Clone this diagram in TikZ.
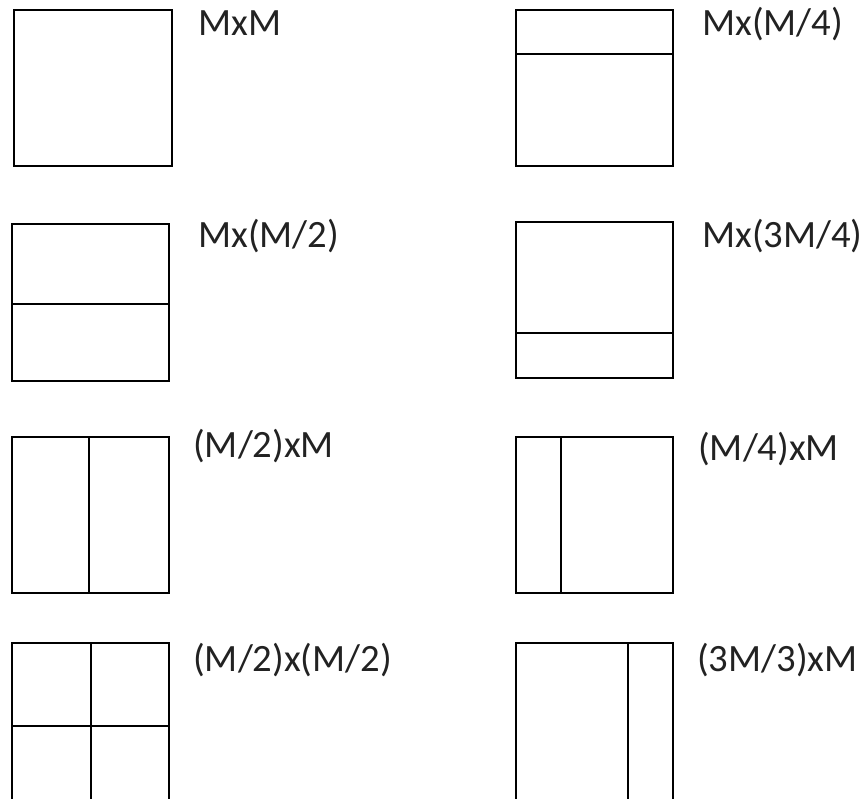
\documentclass[tikz,border=0pt]{standalone}
\usepackage{fontspec}
\setmainfont{Carlito}
\usepackage{xcolor}
\definecolor{ink}{HTML}{222222}
\tikzset{
  blk/.style={line width=1.7pt,line join=miter},
  cut/.style={line width=1.7pt},
  lbl/.style={anchor=base west,inner sep=0pt,text=ink,font=\fontsize{33}{39}\selectfont}
}
\newcommand{\blkbox}[4]{\draw[blk] (#1,#2) rectangle (#3,#4);}

\begin{document}
\begin{tikzpicture}[x=0.03cm,y=-0.03cm]
\useasboundingbox (0,0) rectangle (863,798);
\clip (0,0) rectangle (863,798);
% row 1
\blkbox{14}{10}{172}{166}
\node[lbl] (mm) at (198,35) {MxM};
\blkbox{516}{10}{673}{166}
\draw[cut] (516,54.3) -- (673,54.3);
\node[lbl] (mq) at (702,35) {Mx(M/4)};
% row 2
\blkbox{12}{224.3}{169}{381}
\draw[cut] (12,304.3) -- (169,304.3);
\node[lbl] (mh) at (198,247) {Mx(M/2)};
\blkbox{516}{222}{673}{378}
\draw[cut] (516,333.3) -- (673,333.3);
\node[lbl] (mtq) at (702,247) {Mx(3M/4)};
% row 3
\blkbox{12}{436.7}{169}{592.7}
\draw[cut] (89,436.7) -- (89,592.7);
\node[lbl] (hm) at (193,457) {(M/2)xM};
\blkbox{516}{436.7}{672.5}{592.7}
\draw[cut] (561,436.7) -- (561,592.7);
\node[lbl] (qm) at (698,460) {(M/4)xM};
% row 4
\blkbox{12}{642.7}{169}{803}
\draw[cut] (91,642.7) -- (91,803);
\draw[cut] (12,725.7) -- (169,725.7);
\node[lbl] (hh) at (193,671) {(M/2)x(M/2)};
\blkbox{516}{642.7}{673}{803}
\draw[cut] (627.7,642.7) -- (627.7,803);
\node[lbl] (tm) at (697,671) {(3M/3)xM};
\end{tikzpicture}
\end{document}
